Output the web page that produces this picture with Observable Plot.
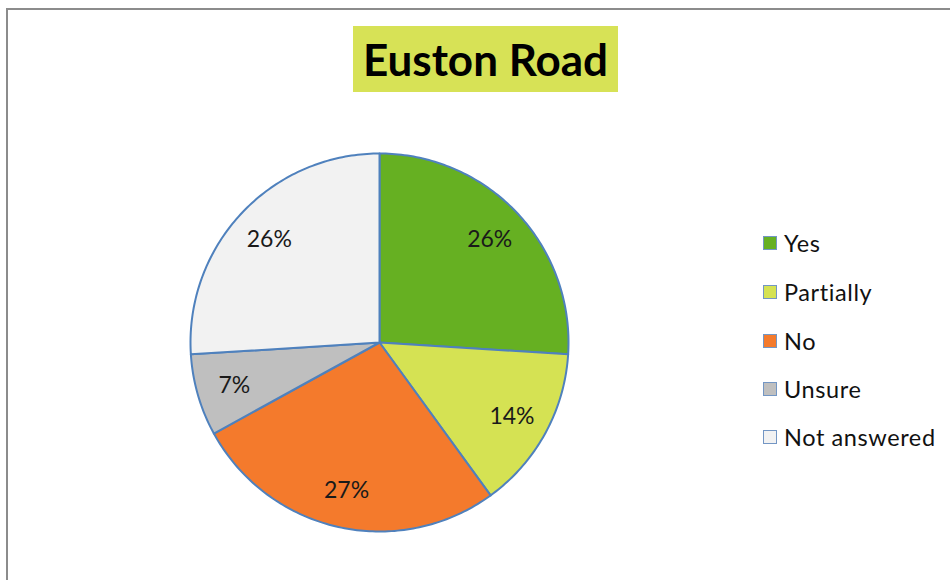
<!DOCTYPE html>
<html><head><meta charset="utf-8">
<script src="https://cdn.jsdelivr.net/npm/d3@7"></script>
<script src="https://cdn.jsdelivr.net/npm/@observablehq/plot@0.6"></script>
<style>
body{margin:0;background:#fff;}
#wrap{position:relative;width:950px;height:580px;overflow:hidden;font-family:Lato,"Open Sans",sans-serif;}
#frame{position:absolute;left:6px;top:8px;width:1000px;height:1000px;border:2px solid #8c8c8c;box-sizing:border-box;}
#title{position:absolute;left:353px;top:26px;width:265px;height:66px;background:#d7e256;display:flex;align-items:center;justify-content:center;font-weight:bold;font-size:44px;color:#000;}
#chart{position:absolute;left:0;top:0;}
.item{position:absolute;left:763px;height:26px;display:flex;align-items:center;font-size:23.5px;letter-spacing:0.6px;color:#111;white-space:nowrap;}
.sw{width:12px;height:12px;border:1px solid #7396c4;margin-right:7px;}
</style></head>
<body>
<div id="wrap">
  <div id="frame"></div>
  <div id="title">Euston Road</div>
  <div id="chart"></div>
</div>
<script>
const categories = ["Yes", "Partially", "No", "Unsure", "Not answered"];
const values = [26, 14, 27, 7, 26];
const labels = ["26%", "14%", "27%", "7%", "26%"];
const colors = ["#66b022", "#d5e253", "#f47a2c", "#bfbfbf", "#f2f2f2"];

const arcs = d3.pie().sort(null).value(d => d)(values);
const polys = [];
arcs.forEach((a, i) => {
  const key = categories[i];
  polys.push({key, x: 0, y: 0});
  const n = Math.max(8, Math.ceil((a.endAngle - a.startAngle) * 60));
  for (let k = 0; k <= n; k++) {
    const t = a.startAngle + (a.endAngle - a.startAngle) * k / n;
    polys.push({key, x: Math.sin(t), y: Math.cos(t)});
  }
  polys.push({key, x: 0, y: 0});
});
const labelData = arcs.map((a, i) => {
  const m = (a.startAngle + a.endAngle) / 2;
  return {key: categories[i], text: labels[i], x: 0.8 * Math.sin(m), y: 0.8 * Math.cos(m)};
});

const chart = Plot.plot({
  width: 950, height: 580,
  marginLeft: 190, marginRight: 382, marginTop: 153, marginBottom: 49,
  x: {domain: [-1, 1], axis: null},
  y: {domain: [-1, 1], axis: null},
  color: {domain: categories, range: colors},
  style: {background: "transparent", overflow: "visible"},
  marks: [
    Plot.line(polys, {x: "x", y: "y", z: "key", fill: "key", stroke: "#4f81bd", strokeWidth: 2, strokeLinejoin: "round"}),
    Plot.text(labelData, {x: "x", y: "y", text: "text", fontSize: 23, dy: 1, fill: "#1a1a1a", fontFamily: "Lato, 'Open Sans', sans-serif"})
  ]
});
document.getElementById("chart").appendChild(chart);

const legendY = [243, 292, 341, 389, 437];
const wrap = document.getElementById("wrap");
categories.forEach((c, i) => {
  const d = document.createElement("div");
  d.className = "item";
  d.style.top = (legendY[i] - 13) + "px";
  d.innerHTML = `<span class="sw" style="background:${colors[i]}"></span><span>${c}</span>`;
  wrap.appendChild(d);
});
</script>
</body></html>
